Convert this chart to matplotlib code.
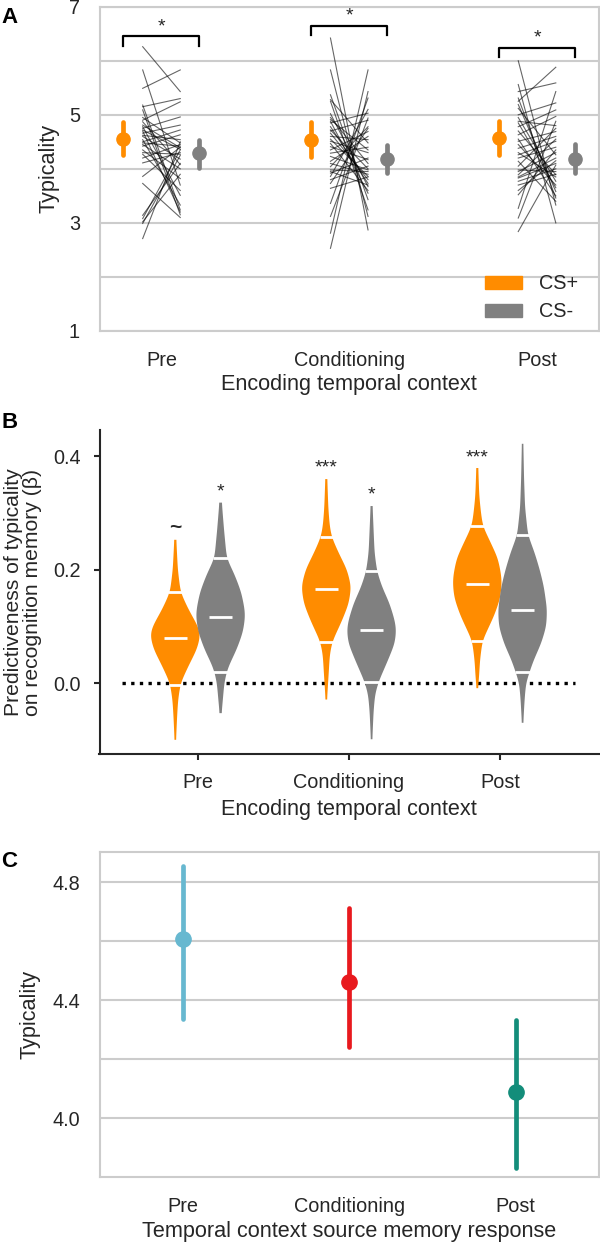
import numpy as np
import matplotlib
matplotlib.use("Agg")
import matplotlib.pyplot as plt
from matplotlib.patches import Patch
from matplotlib.ticker import FixedLocator, NullFormatter

plt.rcParams['font.family'] = ['Liberation Sans', 'DejaVu Sans']
plt.rcParams['font.size'] = 14.3
plt.rcParams['axes.labelsize'] = 15.6
plt.rcParams['text.color'] = '#262626'
plt.rcParams['axes.labelcolor'] = '#262626'
plt.rcParams['xtick.color'] = '#262626'
plt.rcParams['ytick.color'] = '#262626'

# ---------------- data ----------------
contexts = ["Pre", "Conditioning", "Post"]
orange = "#ff8c00"
grey = "#808080"

# panel A: per-subject typicality (CS+ / CS-), paired by position
pre_cs_plus = [6.26, 5.83, 5.49, 5.18, 5.15, 5.09, 4.95, 4.90, 4.87, 4.81, 4.78, 4.75, 4.72, 4.70, 4.66, 4.62, 4.60,
               4.54, 4.50, 4.48, 4.45, 4.42, 4.35, 4.30, 4.27, 4.20, 4.11, 3.86, 3.73, 3.14, 3.08, 3.02, 2.99, 2.71]
pre_cs_minus = [5.43, 3.70, 5.83, 3.24, 5.30, 3.15, 4.48, 5.24, 4.08, 4.39, 3.51, 4.96, 4.36, 3.20, 4.81, 4.54, 4.18,
                3.33, 4.72, 4.42, 4.00, 4.63, 3.82, 4.27, 3.60, 4.45, 4.30, 4.40, 3.10, 4.10, 4.35, 3.90, 4.25, 4.50]
cond_cs_plus = [6.42, 5.83, 5.37, 5.28, 5.25, 5.02, 4.95, 4.91, 4.88, 4.85, 4.78, 4.72, 4.70, 4.66, 4.60, 4.55, 4.51, 4.47,
                4.41, 4.35, 4.29, 4.23, 4.14, 4.10, 4.04, 3.98, 3.95, 3.92, 3.86, 3.80, 3.73, 3.64, 3.36, 3.12, 2.81, 2.53]
cond_cs_minus = [2.87, 3.12, 3.43, 4.48, 3.24, 3.67, 4.10, 4.35, 3.55, 5.03, 3.73, 4.00, 4.90, 3.80, 4.54, 3.86, 4.30, 3.60,
                 4.17, 4.69, 4.40, 3.98, 4.60, 3.90, 4.78, 3.95, 3.70, 4.20, 5.10, 4.05, 4.75, 3.85, 5.31, 4.94, 5.83, 5.43]
post_cs_plus = [6.00, 5.56, 5.43, 5.31, 5.25, 5.19, 5.12, 5.00, 4.95, 4.88, 4.85, 4.78, 4.70, 4.63, 4.55, 4.51, 4.45, 4.38,
                4.30, 4.26, 4.20, 4.14, 4.05, 3.98, 3.95, 3.89, 3.85, 3.83, 3.77, 3.70, 3.60, 3.52, 3.27, 3.09, 2.84]
post_cs_minus = [3.33, 3.00, 5.59, 3.46, 5.88, 3.58, 4.26, 5.22, 3.77, 4.80, 3.65, 5.09, 3.89, 4.97, 3.50, 4.69, 3.70, 4.60,
                 3.85, 4.51, 4.40, 3.40, 4.75, 3.95, 4.30, 4.55, 4.20, 4.10, 4.00, 3.90, 4.15, 4.35, 5.43, 4.88, 4.07]

# panel A: group means and CIs
plus_mean = [4.56, 4.54, 4.57]
plus_lo = [4.25, 4.22, 4.25]
plus_hi = [4.86, 4.86, 4.88]
minus_mean = [4.29, 4.18, 4.18]
minus_lo = [4.01, 3.93, 3.93]
minus_hi = [4.53, 4.44, 4.46]
bracket_y = [6.45, 6.65, 6.24]
bracket_star_y = [6.74, 6.95, 6.54]

# panel B: posterior beta distributions (levels and relative density)
violin_plus = [
    dict(coords=[-0.100, -0.06, -0.03, 0.0, 0.03, 0.06, 0.085, 0.10, 0.13, 0.16, 0.20, 0.2525],
         vals=[0.03, 0.07, 0.11, 0.21, 0.52, 0.86, 1.0, 0.90, 0.52, 0.21, 0.10, 0.04]),
    dict(coords=[-0.029, 0.02, 0.05, 0.073, 0.11, 0.14, 0.17, 0.20, 0.23, 0.258, 0.28, 0.31, 0.3595],
         vals=[0.03, 0.10, 0.14, 0.24, 0.63, 0.90, 1.0, 0.83, 0.49, 0.21, 0.13, 0.08, 0.04]),
    dict(coords=[-0.009, 0.01, 0.04, 0.0745, 0.12, 0.15, 0.175, 0.19, 0.22, 0.25, 0.276, 0.30, 0.33, 0.379],
         vals=[0.03, 0.07, 0.11, 0.21, 0.70, 0.94, 1.0, 0.98, 0.84, 0.52, 0.23, 0.15, 0.08, 0.04]),
]
violin_minus = [
    dict(coords=[-0.053, -0.03, 0.0, 0.02, 0.03, 0.06, 0.09, 0.117, 0.13, 0.16, 0.19, 0.22, 0.27, 0.318],
         vals=[0.04, 0.09, 0.15, 0.25, 0.33, 0.66, 0.91, 1.0, 0.98, 0.84, 0.58, 0.25, 0.14, 0.05]),
    dict(coords=[-0.099, -0.05, -0.02, 0.002, 0.04, 0.07, 0.094, 0.11, 0.14, 0.17, 0.197, 0.23, 0.26, 0.312],
         vals=[0.03, 0.08, 0.14, 0.28, 0.66, 0.94, 1.0, 0.94, 0.73, 0.42, 0.22, 0.12, 0.09, 0.04]),
    dict(coords=[-0.070, -0.03, 0.0, 0.019, 0.04, 0.07, 0.10, 0.13, 0.17, 0.20, 0.23, 0.261, 0.31, 0.36, 0.4217],
         vals=[0.03, 0.08, 0.14, 0.28, 0.45, 0.76, 0.97, 1.0, 0.87, 0.70, 0.49, 0.22, 0.10, 0.06, 0.03]),
]
beta_plus_median = [0.079, 0.166, 0.174]
beta_plus_lo = [-0.003, 0.073, 0.0745]
beta_plus_hi = [0.160, 0.258, 0.276]
beta_minus_median = [0.117, 0.094, 0.129]
beta_minus_lo = [0.020, 0.002, 0.019]
beta_minus_hi = [0.220, 0.197, 0.261]
sig_plus = ["~", "***", "***"]
sig_plus_y = [0.274, 0.388, 0.406]
sig_minus = ["*", "*", "*"]
sig_minus_y = [0.346, 0.341, 0.448]

# panel C: typicality by source memory response
source_mean = [4.607, 4.461, 4.090]
source_lo = [4.337, 4.243, 3.830]
source_hi = [4.856, 4.712, 4.333]
source_colors = ["#67b8d0", "#e8191e", "#138d7a"]

x = np.arange(3)
W, H = 600, 1243
fig = plt.figure(figsize=(W / 100, H / 100), dpi=100)


def box_px(left, top, right, bottom):
    return [left / W, 1 - bottom / H, (right - left) / W, (bottom - top) / H]


def grid_style(ax):
    for s in ax.spines.values():
        s.set_color("#cccccc")
        s.set_linewidth(1.5)
    ax.grid(True, which="both", axis="y", color="#cccccc", lw=1.5)
    ax.set_axisbelow(True)
    ax.tick_params(which="both", length=0)
    ax.tick_params(axis="x", pad=14.5)
    ax.tick_params(axis="y", pad=14)
    ax.yaxis.set_minor_formatter(NullFormatter())


def smooth_outline(coords, vals, sigma=0.009, n=400):
    # round off the corners of the outline
    c = np.linspace(coords[0], coords[-1], n)
    v = np.interp(c, coords, vals)
    step = c[1] - c[0]
    half = int(3 * sigma / step)
    k = np.arange(-half, half + 1) * step
    w = np.exp(-0.5 * (k / sigma) ** 2)
    w /= w.sum()
    v = np.convolve(np.pad(v, half, mode="edge"), w, mode="valid")
    return c, v / v.max()


def center_labels(ax, xlab_y, ylab_x):
    ax.yaxis.label.set_va("center")
    ax.yaxis.set_label_coords(ylab_x, 0.5)
    ax.xaxis.label.set_va("center")
    ax.xaxis.set_label_coords(0.5, xlab_y)


# ---------------- A ----------------
axA = fig.add_axes(box_px(99.5, 6.7, 599, 331))
grid_style(axA)
pairs = [(pre_cs_plus, pre_cs_minus), (cond_cs_plus, cond_cs_minus), (post_cs_plus, post_cs_minus)]
for i, (p, m) in enumerate(pairs):
    xs = np.vstack([np.full(len(p), i - 0.1), np.full(len(m), i + 0.1)])
    axA.plot(xs, np.vstack([p, m]), color="black", alpha=0.6, lw=0.8)

for off, mean, lo, hi, col in [(-0.205, plus_mean, plus_lo, plus_hi, orange),
                               (0.2, minus_mean, minus_lo, minus_hi, grey)]:
    lc = axA.vlines(x + off, lo, hi, color=col, lw=3.4, zorder=3)
    lc.set_capstyle("round")
    axA.plot(x + off, mean, "o", color=col, ms=9.5, zorder=4)

for i in range(3):
    axA.plot([i - 0.205, i - 0.205, i + 0.2, i + 0.2],
             [bracket_y[i] - 0.17, bracket_y[i], bracket_y[i], bracket_y[i] - 0.17], color="black", lw=1.6)
    axA.annotate("*", (i, bracket_star_y[i]), xytext=(0, -8), textcoords="offset points",
                 ha="center", va="baseline", fontsize=14)

axA.set_ylim(1, 7)
axA.yaxis.set_major_locator(FixedLocator([1, 3, 5, 7]))
axA.yaxis.set_minor_locator(FixedLocator([2, 4, 6]))
axA.set_xlim(-0.33, 2.33)
axA.set_xticks(x)
axA.set_xticklabels(contexts)
axA.set_ylabel("Typicality")
axA.set_xlabel("Encoding temporal context")
center_labels(axA, -0.1665, -0.102)
axA.legend(handles=[Patch(color=orange, label="CS+"), Patch(color=grey, label="CS-")],
           loc="lower right", bbox_to_anchor=(0.958, 0.03), frameon=False, borderpad=0,
           borderaxespad=0, handlelength=1.88, handleheight=0.6, handletextpad=0.85,
           labelspacing=0.45)

# ---------------- B ----------------
axB = fig.add_axes(box_px(99.5, 430, 599, 754))
for s in ["top", "right"]:
    axB.spines[s].set_visible(False)
for s in ["left", "bottom"]:
    axB.spines[s].set_color("#262626")
    axB.spines[s].set_linewidth(1.5)
axB.tick_params(length=4.5, width=1.5, pad=9)

for off, stats, med, lo, hi, col in [(-0.15, violin_plus, beta_plus_median, beta_plus_lo, beta_plus_hi, orange),
                                     (0.15, violin_minus, beta_minus_median, beta_minus_lo, beta_minus_hi, grey)]:
    vp = []
    outlines = []
    for i, st in enumerate(stats):
        c, v = smooth_outline(st["coords"], st["vals"])
        outlines.append((c, v))
        vp.append(dict(coords=c, vals=v, mean=med[i], median=med[i], min=c[0], max=c[-1]))
    parts = axB.violin(vp, positions=x + off, widths=0.32, showmeans=False,
                       showextrema=False, showmedians=False)
    for body in parts["bodies"]:
        body.set_facecolor(col)
        body.set_edgecolor("none")
        body.set_alpha(1)
        body.set_zorder(2)
    axB.hlines(med, x + off - 0.075, x + off + 0.075, color="white", lw=2, zorder=3)
    for i, (c, v) in enumerate(outlines):
        for lev in (lo[i], hi[i]):
            hw = np.interp(lev, c, v) * 0.16 + 0.006
            axB.hlines(lev, i + off - hw, i + off + hw, color="white", lw=2, zorder=3)

for i in range(3):
    tilde = sig_plus[i] == "~"
    axB.annotate(sig_plus[i], (i - 0.15, sig_plus_y[i]), xytext=(0, -4 if tilde else -7),
                 textcoords="offset points", ha="center", va="baseline",
                 fontsize=15 if tilde else 14, fontweight="bold" if tilde else "normal")
    axB.annotate(sig_minus[i], (i + 0.15, sig_minus_y[i]), xytext=(0, -7), textcoords="offset points",
                 ha="center", va="baseline", fontsize=14)

axB.hlines(0, -0.5, 2.5, color="black", lw=2.4, linestyles=(0, (1, 1.6)), zorder=1)
axB.set_ylim(-0.125, 0.446)
axB.set_yticks([0.0, 0.2, 0.4])
axB.set_yticklabels(["0.0", "0.2", "0.4"])
axB.set_xlim(-0.652, 2.656)
axB.set_xticks(x)
axB.set_xticklabels(contexts)
axB.set_ylabel("Predictiveness of typicality\non recognition memory (β)", fontsize=15.2, linespacing=1.02)
axB.set_xlabel("Encoding temporal context")
center_labels(axB, -0.17, -0.153)

# ---------------- C ----------------
axC = fig.add_axes(box_px(99.5, 852.3, 599, 1176.7))
grid_style(axC)
for i in range(3):
    lc = axC.vlines(x[i], source_lo[i], source_hi[i], color=source_colors[i], lw=3.4, zorder=3)
    lc.set_capstyle("round")
    axC.plot(x[i], source_mean[i], "o", color=source_colors[i], ms=11, zorder=4)
axC.set_ylim(3.802, 4.902)
axC.yaxis.set_major_locator(FixedLocator([4.0, 4.4, 4.8]))
axC.yaxis.set_minor_locator(FixedLocator([4.2, 4.6]))
axC.set_yticklabels(["4.0", "4.4", "4.8"])
axC.set_xlim(-0.5, 2.5)
axC.set_xticks(x)
axC.set_xticklabels(contexts)
axC.set_ylabel("Typicality")
axC.set_xlabel("Temporal context source memory response")
center_labels(axC, -0.1695, -0.139)

for letter, base in [("A", 23), ("B", 428), ("C", 867)]:
    fig.text(0.002, 1 - base / H, letter, fontsize=16, fontweight="bold", va="baseline", color="black")

fig.savefig("out.png", dpi=100)
